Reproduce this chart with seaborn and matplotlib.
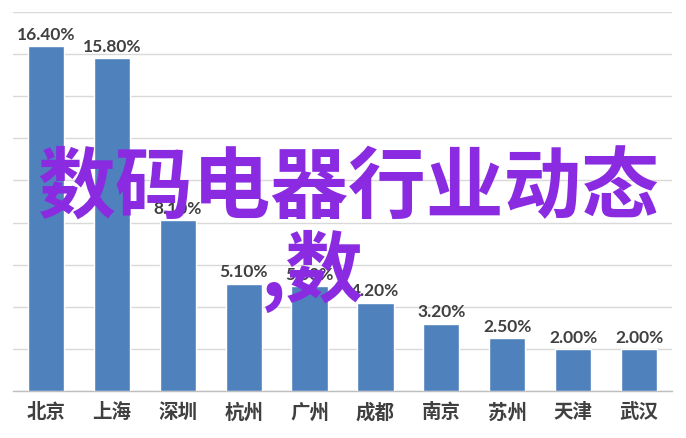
import matplotlib
matplotlib.use("Agg")
import matplotlib.pyplot as plt
import seaborn as sns
import pandas as pd
import numpy as np

cities = ["北京", "上海", "深圳", "杭州", "广州", "成都", "南京", "苏州", "天津", "武汉"]
values = [16.40, 15.80, 8.10, 5.10, 5.00, 4.20, 3.20, 2.50, 2.00, 2.00]
overlay_line1 = "数码电器行业动态"
overlay_line2 = ",数"

sns.set_theme(style="white")
plt.rcParams['font.family'] = ['Noto Sans CJK SC', 'DejaVu Sans']

df = pd.DataFrame({"city": cities, "value": values})

fig = plt.figure(figsize=(6.86, 4.39), dpi=100)
ax = fig.add_axes([13/686, 47/439, (672-13)/686, (392-13)/439])

sns.barplot(data=df, x="city", y="value", color="#4F81BD", saturation=1,
            width=0.55, ax=ax, zorder=3)

ax.set_ylim(0, 18)
ax.set_xlim(-0.5, len(cities) - 0.5)
ax.set_yticks(np.arange(0, 19, 2))
ax.yaxis.grid(True, color="#D9D9D9", linewidth=1, zorder=0)
ax.set_axisbelow(True)
ax.tick_params(axis="y", left=False, labelleft=False)
ax.set_xlabel("")
ax.set_ylabel("")
for s in ["left", "top", "right"]:
    ax.spines[s].set_visible(False)
ax.spines["bottom"].set_color("#BFBFBF")
ax.spines["bottom"].set_linewidth(1)

ax.set_xticks(np.arange(len(cities)))
ax.set_xticklabels(cities, fontsize=14, fontweight="bold", color="#404040")
ax.tick_params(axis="x", which="major", length=0, pad=8)
ax.set_xticks(np.arange(-0.5, len(cities), 1), minor=True)
ax.tick_params(axis="x", which="minor", length=5, color="#BFBFBF", width=1)

for i, v in enumerate(values):
    ax.annotate(f"{v:.2f}%", (i, v), xytext=(0, 3), textcoords="offset points",
                ha="center", va="bottom", fontsize=12.5, fontweight="bold",
                color="#404040", family=["Lato", "DejaVu Sans"], zorder=5)

fig.text(348/686, 1 - 190/439, overlay_line1, fontsize=56, fontweight="bold",
         color="#8A2BE2", ha="center", va="center", zorder=10)
fig.text(364/686, 1 - 271/439, overlay_line2, fontsize=56, fontweight="bold",
         color="#8A2BE2", ha="right", va="center", zorder=10)

fig.savefig("out.png", dpi=100)
